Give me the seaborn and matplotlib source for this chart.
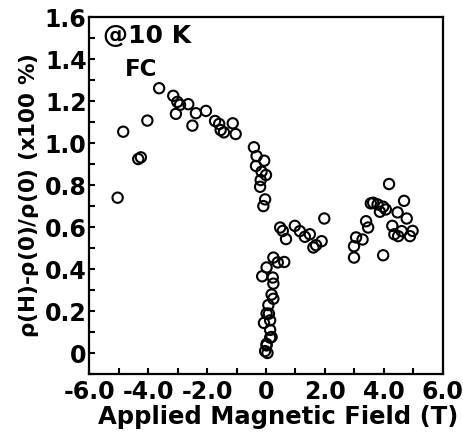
import matplotlib
matplotlib.use("Agg")
import matplotlib.pyplot as plt
import seaborn as sns
import pandas as pd
from matplotlib.ticker import MultipleLocator, FuncFormatter

# magnetoresistance at 10 K, field cooled
field = [
    -5.04, -4.85, -4.34, -4.25, -4.03, -3.63, -3.15, -3.01, -2.92, -3.06,
    -2.64, -2.38, -2.50, -2.04, -1.73, -1.59, -1.54, -1.43, -1.13, -1.03,
    -0.41, -0.32, -0.06, -0.34, -0.15, 0.00, -0.18, -0.20, -0.03, -0.09,
    0.48, 0.57, 0.68, 0.98, 1.15, 1.32, 1.49, 1.61, 1.70, 1.89, 1.98,
    2.99, 2.99, 3.06, 3.28, 3.40, 3.47, 3.56, 3.64, 3.79, 3.87, 3.98,
    4.07, 4.18, 3.98, 4.47, 4.69, 4.78, 4.29, 4.36, 4.49, 4.61, 4.89, 4.98,
    0.25, 0.40, 0.62, 0.02, -0.13, 0.23, 0.25, 0.19, 0.25, 0.08,
    0.02, 0.10, -0.07, 0.14, 0.14, 0.19, 0.14, 0.02, 0.02, 0.05, -0.03,
]
rho = [
    0.741, 1.055, 0.925, 0.933, 1.108, 1.262, 1.226, 1.197, 1.183, 1.140,
    1.186, 1.143, 1.084, 1.154, 1.106, 1.092, 1.063, 1.052, 1.095, 1.044,
    0.981, 0.939, 0.917, 0.892, 0.865, 0.849, 0.825, 0.793, 0.733, 0.701,
    0.599, 0.583, 0.544, 0.607, 0.582, 0.555, 0.567, 0.504, 0.515, 0.534, 0.642,
    0.456, 0.510, 0.552, 0.542, 0.629, 0.599, 0.714, 0.717, 0.709, 0.674, 0.698,
    0.685, 0.806, 0.467, 0.671, 0.726, 0.642, 0.607, 0.567, 0.558, 0.582, 0.558, 0.583,
    0.456, 0.433, 0.435, 0.409, 0.367, 0.361, 0.332, 0.280, 0.260, 0.230,
    0.190, 0.189, 0.145, 0.157, 0.112, 0.078, 0.075, 0.045, 0.038, 0.002, 0.011,
]

df = pd.DataFrame({"field": field, "rho": rho})

sns.set_style("ticks")
plt.rcParams["font.family"] = ["DejaVu Sans"]
plt.rcParams["mathtext.default"] = "regular"
for key in ["text.color", "axes.labelcolor", "xtick.color", "ytick.color", "axes.edgecolor"]:
    plt.rcParams[key] = "black"

fig = plt.figure(figsize=(4.63, 4.41), dpi=100)
ax = fig.add_axes([0.193, 0.151, 0.763, 0.81])

sns.scatterplot(data=df, x="field", y="rho", ax=ax, s=55,
                facecolor="none", edgecolor="black", linewidth=1.5)

ax.set_xlim(-6, 6)
ax.set_ylim(-0.1, 1.6)
ax.xaxis.set_major_locator(MultipleLocator(2))
ax.xaxis.set_minor_locator(MultipleLocator(1))
ax.yaxis.set_major_locator(MultipleLocator(0.2))
ax.yaxis.set_minor_locator(MultipleLocator(0.1))
fmt = FuncFormatter(lambda v, p: "0" if abs(v) < 1e-9 else f"{v:.1f}")
ax.xaxis.set_major_formatter(fmt)
ax.yaxis.set_major_formatter(fmt)

ax.tick_params(which="both", direction="in", width=1.5, length=4,
               top=False, right=False)
ax.tick_params(axis="x", labelsize=17, pad=4)
ax.tick_params(axis="y", labelsize=17, pad=2)
for lab in ax.get_xticklabels() + ax.get_yticklabels():
    lab.set_fontweight("bold")
for sp in ax.spines.values():
    sp.set_linewidth(1.6)

ax.set_xlabel("Applied Magnetic Field (T)", fontsize=17.5, fontweight="bold", labelpad=-1)
ax.xaxis.set_label_coords(0.535, -0.085)
ax.set_ylabel(r"$\rho$(H)-$\rho$(0)/$\rho$(0) (x100 %)", fontsize=15.5,
              fontweight="bold", labelpad=3)

ax.text(0.04, 0.98, "@10 K", transform=ax.transAxes, fontsize=18,
        fontweight="bold", va="top", ha="left")
ax.text(0.10, 0.885, "FC", transform=ax.transAxes, fontsize=16.5,
        fontweight="bold", va="top", ha="left")

fig.savefig("out.png", dpi=100)
